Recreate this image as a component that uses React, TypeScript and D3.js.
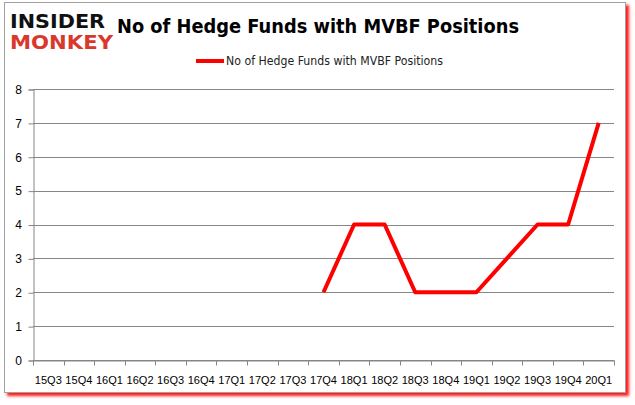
import React, { useEffect, useRef } from 'react';
import * as d3 from 'd3';

const quarters = [
  '15Q3', '15Q4', '16Q1', '16Q2', '16Q3', '16Q4', '17Q1', '17Q2', '17Q3', '17Q4',
  '18Q1', '18Q2', '18Q3', '18Q4', '19Q1', '19Q2', '19Q3', '19Q4', '20Q1',
];
const funds: (number | null)[] = [
  null, null, null, null, null, null, null, null, null, 2,
  4, 4, 2, 2, 2, 3, 4, 4, 7,
];
const yTicks = [0, 1, 2, 3, 4, 5, 6, 7, 8];
const seriesName = 'No of Hedge Funds with MVBF Positions';

const App: React.FC = () => {
  const svgRef = useRef<SVGSVGElement | null>(null);

  useEffect(() => {
    if (!svgRef.current) return;
    const svg = d3.select(svgRef.current);
    svg.selectAll('*').remove();

    const width = 635;
    const height = 405;
    const margin = { top: 89, right: 21, bottom: 45, left: 33 };
    const innerWidth = width - margin.left - margin.right;
    const innerHeight = height - margin.top - margin.bottom;
    const font = 'Tahoma, Verdana, "DejaVu Sans", sans-serif';
    const tickFont = '"Liberation Sans", Arial, sans-serif';

    // frame with red shadow
    const defs = svg.append('defs');
    const filter = defs.append('filter').attr('id', 'shadow')
      .attr('x', '-5%').attr('y', '-5%').attr('width', '110%').attr('height', '115%');
    filter.append('feDropShadow')
      .attr('dx', 3).attr('dy', 3).attr('stdDeviation', 1.5)
      .attr('flood-color', '#ff0000').attr('flood-opacity', 0.9);

    svg.append('rect')
      .attr('x', 4.5).attr('y', 2.5)
      .attr('width', 621).attr('height', 390)
      .attr('fill', '#fff')
      .attr('stroke', '#a0a0a0')
      .attr('stroke-width', 1)
      .attr('filter', 'url(#shadow)');

    // logo
    svg.append('text')
      .attr('x', 10).attr('y', 28)
      .attr('font-family', '"DejaVu Sans", sans-serif')
      .attr('font-weight', 900)
      .attr('font-size', 19)
      .attr('textLength', 95)
      .attr('lengthAdjust', 'spacingAndGlyphs')
      .attr('fill', '#111')
      .text('INSIDER');
    svg.append('text')
      .attr('x', 10).attr('y', 49)
      .attr('font-family', '"DejaVu Sans", sans-serif')
      .attr('font-weight', 900)
      .attr('font-size', 19)
      .attr('textLength', 103)
      .attr('lengthAdjust', 'spacingAndGlyphs')
      .attr('fill', '#d9392b')
      .text('MONKEY');

    // title
    svg.append('text')
      .attr('x', 318).attr('y', 33)
      .attr('text-anchor', 'middle')
      .attr('font-family', font)
      .attr('font-weight', 'bold')
      .attr('font-size', 19)
      .attr('textLength', 402)
      .attr('lengthAdjust', 'spacingAndGlyphs')
      .attr('fill', '#000')
      .text(seriesName);

    // legend
    svg.append('line')
      .attr('x1', 196).attr('x2', 224)
      .attr('y1', 61).attr('y2', 61)
      .attr('stroke', '#ff0000').attr('stroke-width', 4);
    svg.append('text')
      .attr('x', 226).attr('y', 65)
      .attr('font-family', font)
      .attr('font-size', 11.5)
      .attr('textLength', 217)
      .attr('lengthAdjust', 'spacingAndGlyphs')
      .attr('fill', '#222')
      .text(seriesName);

    const g = svg.append('g')
      .attr('transform', `translate(${margin.left},${margin.top})`);

    const x = d3.scaleBand<string>().domain(quarters).range([0, innerWidth]);
    const y = d3.scaleLinear().domain([0, 8]).range([innerHeight, 0]);

    // gridlines
    g.append('g')
      .selectAll('line')
      .data(yTicks)
      .enter()
      .append('line')
      .attr('x1', 0).attr('x2', innerWidth)
      .attr('y1', d => Math.round(y(d)) + 0.5)
      .attr('y2', d => Math.round(y(d)) + 0.5)
      .attr('stroke', '#868686')
      .attr('stroke-width', 1);

    // y axis
    const yAxis = g.append('g')
      .attr('transform', 'translate(0.5,0.5)')
      .call(d3.axisLeft(y).tickValues(yTicks).tickSize(5).tickPadding(8).tickFormat(d3.format('d')));
    yAxis.select('.domain').attr('stroke', '#868686');
    yAxis.selectAll('line').attr('stroke', '#868686');
    yAxis.selectAll('text')
      .attr('font-family', tickFont).attr('font-size', 12).attr('fill', '#000')
      .attr('text-anchor', 'middle').attr('x', -15);

    // x axis
    const xAxis = g.append('g')
      .attr('transform', `translate(0,${Math.round(innerHeight) + 0.5})`)
      .call(d3.axisBottom(x).tickSize(0).tickPadding(15));
    xAxis.select('.domain').attr('stroke', '#868686');
    xAxis.selectAll('text')
      .attr('font-family', tickFont).attr('font-size', 11.5).attr('fill', '#000')
      .attr('textLength', 27).attr('lengthAdjust', 'spacingAndGlyphs');
    const bounds = quarters.map(q => x(q) as number).concat([innerWidth]);
    xAxis.selectAll('line.bound')
      .data(bounds)
      .enter()
      .append('line')
      .attr('class', 'bound')
      .attr('x1', d => Math.round(d) + 0.5).attr('x2', d => Math.round(d) + 0.5)
      .attr('y1', 0).attr('y2', 5)
      .attr('stroke', '#868686');

    // series line
    const line = d3.line<number | null>()
      .defined(d => d !== null)
      .x((_, i) => (x(quarters[i]) as number) + x.bandwidth() / 2)
      .y(d => y(d as number));

    g.append('path')
      .datum(funds)
      .attr('fill', 'none')
      .attr('stroke', '#ff0000')
      .attr('stroke-width', 4)
      .attr('stroke-linejoin', 'round')
      .attr('d', line);
  }, []);

  return (
    <svg ref={svgRef} width={635} height={405} style={{ display: 'block', position: 'absolute', left: 0, top: 0 }} />
  );
};

export default App;
